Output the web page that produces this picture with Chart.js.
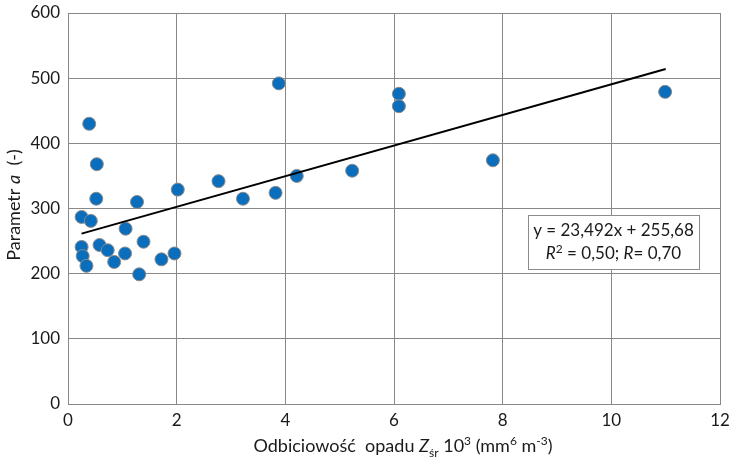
<!DOCTYPE html>
<html>
<head>
<meta charset="utf-8">
<script src="https://cdn.jsdelivr.net/npm/chart.js@4/dist/chart.umd.min.js"></script>
<style>
html,body{margin:0;padding:0;background:#fff;}
#wrap{width:729px;height:458px;}
</style>
</head>
<body>
<div id="wrap"><canvas id="c" width="729" height="458"></canvas></div>
<script>
// ---- data ----
const xValues = [0.39, 0.53, 0.52, 1.27, 2.02, 2.77, 0.25, 0.42, 1.06, 0.25,
                 0.58, 0.73, 1.39, 0.27, 1.05, 0.34, 0.85, 1.72, 1.96, 1.31,
                 3.22, 3.82, 3.88, 4.21, 5.23, 6.09, 6.09, 7.82, 10.99];
const yValues = [430, 368, 315, 310, 329, 342, 287, 281, 269, 241,
                 244, 236, 249, 227, 231, 212, 218, 222, 231, 199,
                 315, 324, 492, 350, 358, 476, 457, 374, 479];
const trendX = [0.25, 11.0];
const trendY = [261.5, 514.1];
const xTicks = [0, 2, 4, 6, 8, 10, 12];
const yTicks = [0, 100, 200, 300, 400, 500, 600];
const equationLine1 = 'y = 23,492x + 255,68';
const r2Value = '0,50';
const rValue = '0,70';
const yTitleParts = [['Parametr ', 'n'], ['a', 'i'], ['  (-)', 'n']];
const xTitleParts = [['Odbiciowość  opadu ', 'n'], ['Z', 'i'], ['śr', 'sub'], [' 10', 'n'], ['3', 'sup'],
                     [' (mm', 'n'], ['6', 'sup'], [' m', 'n'], ['-3', 'sup'], [')', 'n']];

const FONT = 'Lato, "Open Sans", "Liberation Sans", sans-serif';

function fontFor(kind, base) {
  if (kind === 'i') return 'italic ' + base + 'px ' + FONT;
  if (kind === 'sub' || kind === 'sup') return Math.round(base * 0.68) + 'px ' + FONT;
  return base + 'px ' + FONT;
}
function measureParts(ctx, parts, base) {
  let w = 0;
  for (const [t, k] of parts) { ctx.font = fontFor(k, base); w += ctx.measureText(t).width; }
  return w;
}
function drawParts(ctx, parts, x, y, base) {
  let cx = x;
  for (const [t, k] of parts) {
    ctx.font = fontFor(k, base);
    let dy = 0;
    if (k === 'sub') dy = Math.round(base * 0.25);
    if (k === 'sup') dy = -Math.round(base * 0.38);
    ctx.fillText(t, cx, y + dy);
    cx += ctx.measureText(t).width;
  }
}

const annotPlugin = {
  id: 'annot',
  afterDraw(chart) {
    const ctx = chart.ctx;
    const ca = chart.chartArea;
    ctx.save();
    ctx.fillStyle = '#1a1a1a';
    ctx.textBaseline = 'alphabetic';
    ctx.textAlign = 'left';
    // y title
    const TS = 18;
    const yw = measureParts(ctx, yTitleParts, TS);
    ctx.save();
    ctx.translate(20, 205);
    ctx.rotate(-Math.PI / 2);
    drawParts(ctx, yTitleParts, -yw / 2, 0, TS);
    ctx.restore();
    // x title
    const xw = measureParts(ctx, xTitleParts, TS);
    drawParts(ctx, xTitleParts, 403 - xw / 2, 452, TS);
    // equation box
    const bx = 528, by = 215, bw = 171, bh = 54;
    ctx.fillStyle = '#ffffff';
    ctx.fillRect(bx, by, bw, bh);
    ctx.strokeStyle = '#8c8c8c';
    ctx.lineWidth = 1;
    ctx.strokeRect(bx + 0.5, by + 0.5, bw, bh);
    ctx.fillStyle = '#1a1a1a';
    const ES = 17;
    const l1 = [[equationLine1, 'n']];
    const l2 = [['R', 'i'], ['2', 'sup'], [' = ' + r2Value + '; ', 'n'], ['R', 'i'], ['= ' + rValue, 'n']];
    const cxm = bx + bw / 2;
    drawParts(ctx, l1, cxm - measureParts(ctx, l1, ES) / 2, 236, ES);
    drawParts(ctx, l2, cxm - measureParts(ctx, l2, ES) / 2, 259, ES);
    ctx.restore();
  }
};

const scatterData = xValues.map((x, i) => ({ x: x, y: yValues[i] }));
const trendData = trendX.map((x, i) => ({ x: x, y: trendY[i] }));

new Chart(document.getElementById('c'), {
  type: 'scatter',
  data: {
    datasets: [
      {
        type: 'line',
        data: trendData,
        borderColor: '#000000',
        borderWidth: 2,
        pointRadius: 0,
        fill: false,
        tension: 0,
        order: 0
      },
      {
        type: 'scatter',
        data: scatterData,
        backgroundColor: '#0A6EBD',
        borderColor: '#8a8a8a',
        borderWidth: 1,
        pointRadius: 6.5,
        pointHoverRadius: 6.5,
        order: 1
      }
    ]
  },
  options: {
    responsive: false,
    devicePixelRatio: 1,
    animation: false,
    layout: { padding: { top: 13, right: 9, left: 0, bottom: 0 } },
    plugins: { legend: { display: false }, tooltip: { enabled: false } },
    scales: {
      x: {
        type: 'linear',
        min: 0, max: 12,
        afterBuildTicks(s) { s.ticks = xTicks.map(v => ({ value: v })); },
        afterFit(s) { s.height = 54; s.paddingLeft = 0; s.paddingRight = 0; },
        grid: { color: '#888888', lineWidth: 1, drawTicks: false },
        border: { color: '#888888', width: 1 },
        ticks: { padding: 6, color: '#1a1a1a', font: { family: FONT, size: 17 }, maxRotation: 0 }
      },
      y: {
        type: 'linear',
        min: 0, max: 600,
        afterBuildTicks(s) { s.ticks = yTicks.map(v => ({ value: v })); },
        afterFit(s) { s.width = 68; s.paddingTop = 0; s.paddingBottom = 0; },
        grid: { color: '#888888', lineWidth: 1, drawTicks: false },
        border: { color: '#888888', width: 1 },
        ticks: { padding: 8, color: '#1a1a1a', font: { family: FONT, size: 17 } }
      }
    }
  },
  plugins: [annotPlugin]
});
</script>
</body>
</html>
